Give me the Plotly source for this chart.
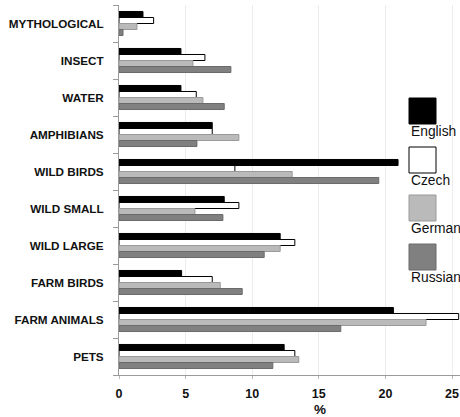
import plotly.graph_objects as go

categories = ["MYTHOLOGICAL", "INSECT", "WATER", "AMPHIBIANS", "WILD BIRDS",
              "WILD SMALL", "WILD LARGE", "FARM BIRDS", "FARM ANIMALS", "PETS"]
english = [1.8, 4.65, 4.65, 7.0, 20.95, 7.9, 12.1, 4.7, 20.6, 12.4]
czech   = [2.6, 6.45, 5.8, 7.0, 8.7, 9.0, 13.2, 7.0, 25.5, 13.2]
german  = [1.35, 5.55, 6.3, 9.0, 13.0, 5.7, 12.1, 7.6, 23.05, 13.5]
russian = [0.3, 8.4, 7.9, 5.85, 19.5, 7.8, 10.9, 9.25, 16.65, 11.55]
series_names = ["English", "Czech", "German", "Russian"]
x_ticks = [0, 5, 10, 15, 20, 25]

fills = ["#000000", "#ffffff", "#bababa", "#808080"]
lines = ["#000000", "#000000", "#9a9a9a", "#6a6a6a"]

W, H = 460, 417
ML, MR, MT, MB = 119, 0, 5, 42

fig = go.Figure()
for name, vals, fc, lc in zip(series_names, [english, czech, german, russian], fills, lines):
    fig.add_trace(go.Bar(
        y=categories, x=vals, name=name, orientation="h",
        marker=dict(color=fc, line=dict(color=lc, width=1)),
        showlegend=False,
    ))

pw, ph = W - ML - MR, H - MT - MB
def px(x):  # page pixel -> paper
    return (x - ML) / pw
def py(y):
    return (H - MB - y) / ph

shapes = []
annotations = []
box_tops = [98, 147, 195, 244]
for name, fc, lc, top in zip(series_names, fills, lines, box_tops):
    shapes.append(dict(type="rect", xref="paper", yref="paper",
                       x0=px(409), x1=px(436), y0=py(top + 26), y1=py(top),
                       fillcolor=fc, line=dict(color=lc if fc != "#ffffff" else "#000000", width=1)))
    annotations.append(dict(text=name, xref="paper", yref="paper",
                            x=px(409), y=py(top + 33), xanchor="left", yanchor="middle",
                            showarrow=False, font=dict(size=13.8, color="#111111",
                                                       family="Liberation Sans, Arial")))

annotations.append(dict(text="<b>%</b>", xref="x", yref="paper", x=15.1, y=py(409),
                        xanchor="center", yanchor="middle", showarrow=False,
                        font=dict(size=13.5, color="#111111", family="Liberation Sans, Arial")))

fig.update_layout(
    width=W, height=H,
    margin=dict(l=ML, r=MR, t=MT, b=MB, autoexpand=False),
    paper_bgcolor="white", plot_bgcolor="white",
    barmode="group", bargap=0.35, bargroupgap=0,
    shapes=shapes, annotations=annotations,
    font=dict(family="Liberation Sans, Arial", color="#111111"),
)
fig.update_xaxes(
    range=[0, 25.6], tickvals=x_ticks, ticktext=[f"<b>{t}</b>" for t in x_ticks],
    tickfont=dict(size=12.5), showgrid=True, gridcolor="#ececec", gridwidth=1,
    showline=True, linecolor="#9a9a9a", linewidth=1, ticks="outside", ticklen=3,
    tickcolor="#bbbbbb", zeroline=False, ticklabelstandoff=4,
)
fig.update_yaxes(
    range=[9.5, -0.5], tickvals=categories,
    ticktext=[f"<b>{c}</b>" for c in categories],
    tickfont=dict(size=11.7), showline=True, linecolor="#9a9a9a", linewidth=1,
    ticks="outside", ticklen=5, tickcolor="#9a9a9a", tickson="boundaries",
    showgrid=False, ticklabelstandoff=12,
)

fig.write_html("out.html", config={"displayModeBar": False},
               post_script="document.body.style.margin='0';document.body.style.overflow='hidden';")
